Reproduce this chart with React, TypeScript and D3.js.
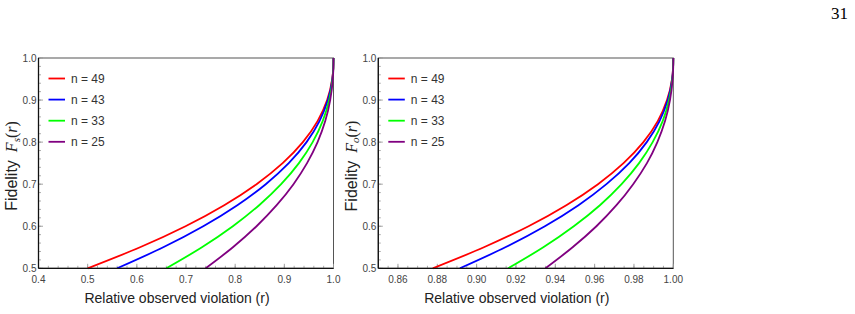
import React, { useEffect, useRef } from 'react';
import * as d3 from 'd3';

// fidelity levels shared by all curves
const fidelity = [0.5, 0.55, 0.6, 0.65, 0.7, 0.75, 0.8, 0.85, 0.9, 0.95, 0.975, 1.0];

// r at each fidelity level, standard violation (left panel)
const rS49 = [0.5, 0.6065, 0.699, 0.7777, 0.8435, 0.8966, 0.9377, 0.9676, 0.9871, 0.9973, 0.9995, 1.0];
const rS43 = [0.56, 0.6537, 0.7351, 0.8044, 0.8622, 0.909, 0.9452, 0.9715, 0.9886, 0.9977, 0.9995, 1.0];
const rS33 = [0.66, 0.7324, 0.7953, 0.8488, 0.8935, 0.9297, 0.9576, 0.978, 0.9912, 0.9982, 0.9996, 1.0];
const rS25 = [0.74, 0.7954, 0.8435, 0.8844, 0.9186, 0.9462, 0.9676, 0.9832, 0.9933, 0.9986, 0.9997, 1.0];

// r at each fidelity level, right panel
const rO49 = [0.8777, 0.9037, 0.9264, 0.9456, 0.9617, 0.9747, 0.9848, 0.9921, 0.9968, 0.99935, 0.99987, 1.0];
const rO43 = [0.8915, 0.9146, 0.9347, 0.9518, 0.966, 0.9776, 0.9865, 0.993, 0.9972, 0.99942, 0.99988, 1.0];
const rO33 = [0.916, 0.9339, 0.9494, 0.9627, 0.9737, 0.9826, 0.9895, 0.9946, 0.99783, 0.99955, 0.99991, 1.0];
const rO25 = [0.935, 0.9488, 0.9609, 0.9711, 0.9796, 0.9866, 0.9919, 0.9958, 0.99832, 0.99965, 0.99993, 1.0];

const legendLabels = ['n = 49', 'n = 43', 'n = 33', 'n = 25'];
const colors = ['#ff0000', '#0000ff', '#00ff00', '#800080'];

const yTicks = [0.5, 0.6, 0.7, 0.8, 0.9, 1.0];
const xTicksS = [0.4, 0.5, 0.6, 0.7, 0.8, 0.9, 1.0];
const xTicksO = [0.86, 0.88, 0.9, 0.92, 0.94, 0.96, 0.98, 1.0];

const sans = 'Arial, "Liberation Sans", sans-serif';
const serif = '"Liberation Serif", "Times New Roman", serif';

function drawPanel(svg, opts) {
    const { left, right, top, bottom, xDomain, xTicks, xFmt, minorStep, series, sub } = opts;
    const x = d3.scaleLinear().domain(xDomain).range([left, right]);
    const y = d3.scaleLinear().domain([0.5, 1.0]).range([bottom, top]);
    const g = svg.append('g');

    // frame
    g.append('rect')
        .attr('x', left).attr('y', top)
        .attr('width', right - left).attr('height', bottom - top)
        .attr('fill', 'none').attr('stroke', '#555').attr('stroke-width', 1);

    // minor + major ticks on bottom and left
    const xMinor = d3.range(xDomain[0], xDomain[1] + 1e-9, minorStep);
    g.selectAll('.xminor').data(xMinor).enter().append('line')
        .attr('x1', d => x(d)).attr('x2', d => x(d))
        .attr('y1', bottom).attr('y2', bottom - 2.5)
        .attr('stroke', '#999').attr('stroke-width', 0.8);
    g.selectAll('.xmajor').data(xTicks).enter().append('line')
        .attr('x1', d => x(d)).attr('x2', d => x(d))
        .attr('y1', bottom).attr('y2', bottom - 4.5)
        .attr('stroke', '#999').attr('stroke-width', 0.9);
    const yMinor = d3.range(0.5, 1.0001, 0.02);
    g.selectAll('.yminor').data(yMinor).enter().append('line')
        .attr('x1', left).attr('x2', left + 2.5)
        .attr('y1', d => y(d)).attr('y2', d => y(d))
        .attr('stroke', '#999').attr('stroke-width', 0.8);
    g.selectAll('.ymajor').data(yTicks).enter().append('line')
        .attr('x1', left).attr('x2', left + 4.5)
        .attr('y1', d => y(d)).attr('y2', d => y(d))
        .attr('stroke', '#999').attr('stroke-width', 0.9);

    // tick labels
    g.selectAll('.xlab').data(xTicks).enter().append('text')
        .attr('x', d => x(d)).attr('y', bottom + 15)
        .attr('text-anchor', 'middle')
        .attr('font-family', sans).attr('font-size', 10).attr('fill', '#444')
        .text(xFmt);
    g.selectAll('.ylab').data(yTicks).enter().append('text')
        .attr('x', left - 2).attr('y', d => y(d) + 3.5)
        .attr('text-anchor', 'end')
        .attr('font-family', sans).attr('font-size', 10).attr('fill', '#444')
        .text(d => d.toFixed(1));

    // curves
    const line = d3.line()
        .x(d => x(d[0]))
        .y(d => y(d[1]))
        .curve(d3.curveMonotoneY);
    series.forEach((rs, i) => {
        const pts = rs.map((r, j) => [r, fidelity[j]]);
        g.append('path')
            .attr('d', line(pts))
            .attr('fill', 'none')
            .attr('stroke', colors[i])
            .attr('stroke-width', 1.8);
    });

    // axis lines on left and bottom
    g.append('line').attr('x1', left).attr('x2', left).attr('y1', top).attr('y2', bottom)
        .attr('stroke', '#111').attr('stroke-width', 1.3);
    g.append('line').attr('x1', left).attr('x2', right).attr('y1', bottom).attr('y2', bottom)
        .attr('stroke', '#111').attr('stroke-width', 1.3);

    // legend
    legendLabels.forEach((lab, i) => {
        const ly = 78.5 + i * 21.1;
        g.append('line')
            .attr('x1', left + 10).attr('x2', left + 26.5)
            .attr('y1', ly).attr('y2', ly)
            .attr('stroke', colors[i]).attr('stroke-width', 1.8);
        g.append('text')
            .attr('x', left + 32.5).attr('y', ly + 4.3)
            .attr('font-family', sans).attr('font-size', 12).attr('fill', '#333')
            .text(lab);
    });

    // axis titles
    g.append('text')
        .attr('x', (left + right) / 2 - 9).attr('y', 303)
        .attr('text-anchor', 'middle')
        .attr('font-family', sans).attr('font-size', 14).attr('fill', '#222')
        .text('Relative observed violation (r)');

    const yt = g.append('text')
        .attr('transform', `translate(${left - 21.5},166) rotate(-90)`)
        .attr('text-anchor', 'middle')
        .attr('font-family', sans).attr('font-size', 16).attr('fill', '#222');
    yt.append('tspan').text('Fidelity\u2002');
    yt.append('tspan').attr('font-family', serif).attr('font-style', 'italic').attr('font-size', 16).text('F');
    yt.append('tspan').attr('font-family', serif).attr('font-style', 'italic').attr('font-size', 11).attr('dy', 2.5).text(sub);
    yt.append('tspan').attr('font-family', serif).attr('font-size', 16).attr('dy', -2.5).text('(');
    yt.append('tspan').attr('font-family', serif).attr('font-style', 'italic').attr('font-size', 16).text('r');
    yt.append('tspan').attr('font-family', serif).attr('font-size', 16).text(')');
}

export default function App() {
    const ref = useRef(null);

    useEffect(() => {
        const svg = d3.select(ref.current);
        svg.selectAll('*').remove();

        drawPanel(svg, {
            left: 38.5, right: 333.5, top: 58, bottom: 268.3,
            xDomain: [0.4, 1.0], xTicks: xTicksS, xFmt: d => d.toFixed(1),
            minorStep: 0.02, series: [rS49, rS43, rS33, rS25], sub: 's'
        });
        drawPanel(svg, {
            left: 378.3, right: 673.3, top: 58, bottom: 268.3,
            xDomain: [0.85, 1.0], xTicks: xTicksO, xFmt: d => d.toFixed(2),
            minorStep: 0.005, series: [rO49, rO43, rO33, rO25], sub: 'o'
        });

        svg.append('text')
            .attr('x', 848).attr('y', 19)
            .attr('text-anchor', 'end')
            .attr('font-family', serif).attr('font-size', 17).attr('fill', '#000')
            .text('31');
    }, []);

    return (
        <svg ref={ref} width={855} height={314}
            style={{ position: 'absolute', left: 0, top: 0, background: '#fff' }} />
    );
}
